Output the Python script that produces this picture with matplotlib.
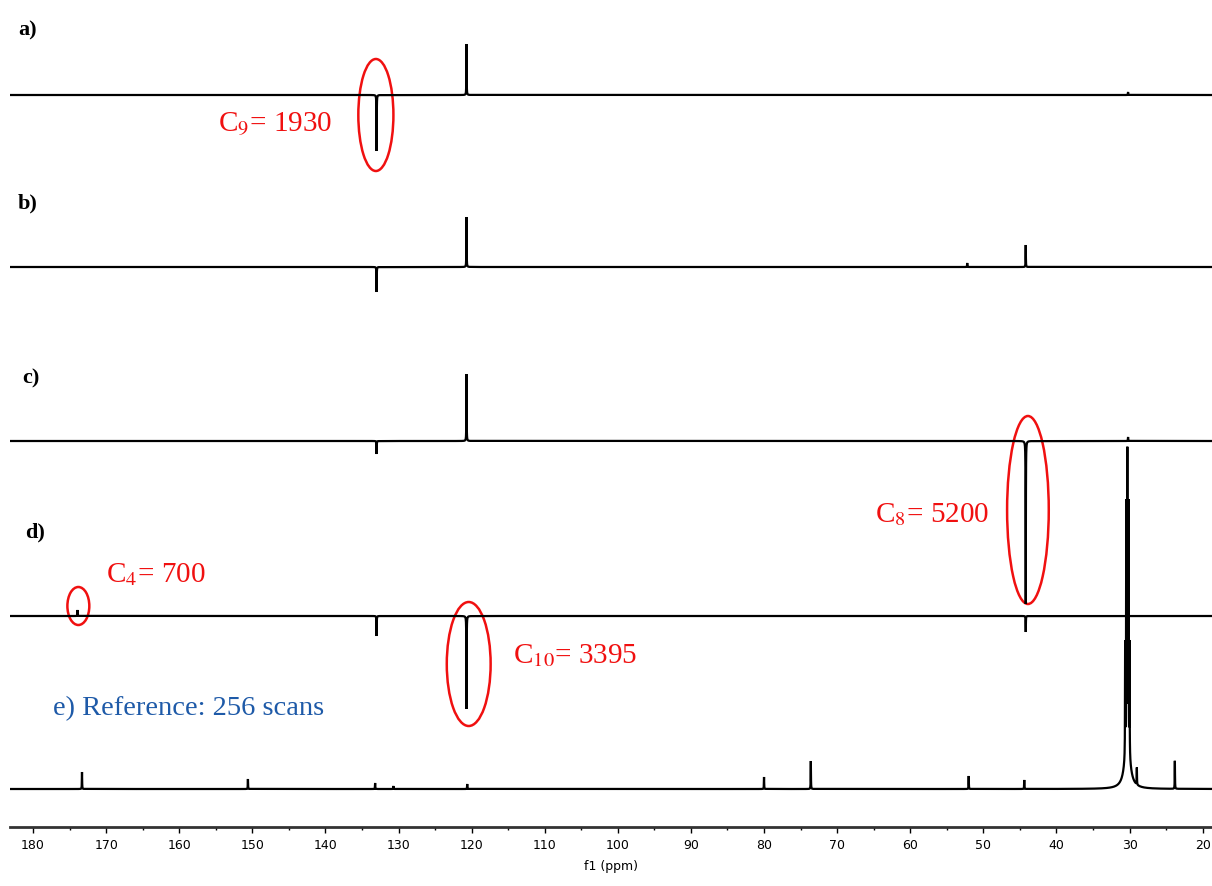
"""Espectros de 13C empilhados (a-e) com os picos destacados."""

import matplotlib

matplotlib.use("Agg")

import matplotlib.pyplot as plt  # noqa: E402
import numpy as np  # noqa: E402
from matplotlib.patches import Ellipse  # noqa: E402

plt.rcParams["mathtext.fontset"] = "stix"

# deslocamento (ppm) e altura dos picos de cada espectro, em unidades de tela
A_PPM = [120.7, 133.0, 30.2]
A_HEIGHT = [51, -56, 3]

B_PPM = [120.7, 133.0, 44.2, 52.2]
B_HEIGHT = [50, -25, 22, 4]

C_PPM = [120.7, 133.0, 44.2, 30.2]
C_HEIGHT = [67, -13, -163, 4]

D_PPM = [173.9, 133.0, 120.7, 44.2]
D_HEIGHT = [6, -20, -93, -16]

E_PPM = [173.3, 150.6, 133.2, 130.7, 120.6, 80.0, 73.6, 52.0, 44.4,
         30.30, 30.15, 30.45, 30.00, 30.60, 30.30, 29.0, 23.8]
E_HEIGHT = [17, 10, 6, 3, 5, 12, 28, 13, 9,
            283, 238, 238, 111, 111, 50, 17, 28]
E_WIDTH = [0.02] * 14 + [0.4, 0.02, 0.02]

TRACE_LABELS = ["a)", "b)", "c)", "d)"]
TRACE_OFFSETS = [732, 560, 386, 211, 38]

PPM_MIN, PPM_MAX = 18.72, 183.15
XTICKS = list(range(180, 19, -10))


def spectrum(ppm_axis, centers, heights, widths=None):
    """Soma de lorentzianas estreitas."""
    if widths is None:
        widths = [0.02] * len(centers)
    y = np.zeros_like(ppm_axis)
    for x0, h, g in zip(centers, heights, widths):
        y += h * g**2 / ((ppm_axis - x0) ** 2 + g**2)
    return y


def main():
    fig = plt.figure(figsize=(12.12, 8.87), dpi=100)
    ax = fig.add_axes([10 / 1212, 59 / 887, 1202 / 1212, 828 / 887])

    ppm_axis = np.round(np.arange(PPM_MIN, PPM_MAX, 0.005), 3)
    traces = [
        (A_PPM, A_HEIGHT, None),
        (B_PPM, B_HEIGHT, None),
        (C_PPM, C_HEIGHT, None),
        (D_PPM, D_HEIGHT, None),
        (E_PPM, E_HEIGHT, E_WIDTH),
    ]
    for (centers, heights, widths), offset in zip(traces, TRACE_OFFSETS):
        y = spectrum(ppm_axis, centers, heights, widths) + offset
        ax.plot(ppm_axis, y, color="black", linewidth=1.6, solid_joinstyle="miter")

    label_pos = [(182.05, 793), (182.05, 620), (181.5, 445), (181.1, 291)]
    for text, (x, y) in zip(TRACE_LABELS, label_pos):
        ax.text(x, y, text, family=["Liberation Serif", "DejaVu Serif"],
                fontsize=16, fontweight="bold", va="baseline")

    red = "#F01010"
    serif = ["Liberation Serif", "DejaVu Serif"]
    notes = [
        (154.7, 696, r"C$_9$= 1930"),
        (170.0, 246, r"C$_4$= 700"),
        (114.3, 165, r"C$_{10}$= 3395"),
        (64.8, 306, r"C$_8$= 5200"),
    ]
    for x, y, text in notes:
        ax.text(x, y, text, color=red, family=serif, fontsize=21, va="baseline")

    ellipses = [
        (133.1, 712, 4.8, 112),
        (173.8, 221, 3.0, 38),
        (120.4, 163, 6.0, 124),
        (43.9, 317, 5.7, 188),
    ]
    for x, y, w, h in ellipses:
        ax.add_patch(Ellipse((x, y), w, h, fill=False, edgecolor=red, linewidth=1.8))

    ax.text(177.3, 113, "e) Reference: 256 scans", color="#1E5AA8",
            family=serif, fontsize=20.5, va="baseline")

    ax.set_xlim(PPM_MAX, PPM_MIN)
    ax.set_ylim(0, 828)
    ax.spines[["top", "left", "right"]].set_visible(False)
    ax.spines["bottom"].set_linewidth(2.0)
    ax.spines["bottom"].set_color("#333333")
    ax.set_yticks([])
    ax.set_xticks(XTICKS)
    ax.set_xticks(list(range(175, 19, -10)), minor=True)
    ax.tick_params(axis="x", which="major", length=4, width=1, pad=4, labelsize=9)
    ax.tick_params(axis="x", which="minor", length=2.5, width=1)
    ax.set_xlabel("f1 (ppm)", fontsize=9, labelpad=6)
    ax.patch.set_visible(False)

    fig.savefig("out.png", dpi=100, facecolor="white")
    plt.close(fig)


if __name__ == "__main__":
    main()
